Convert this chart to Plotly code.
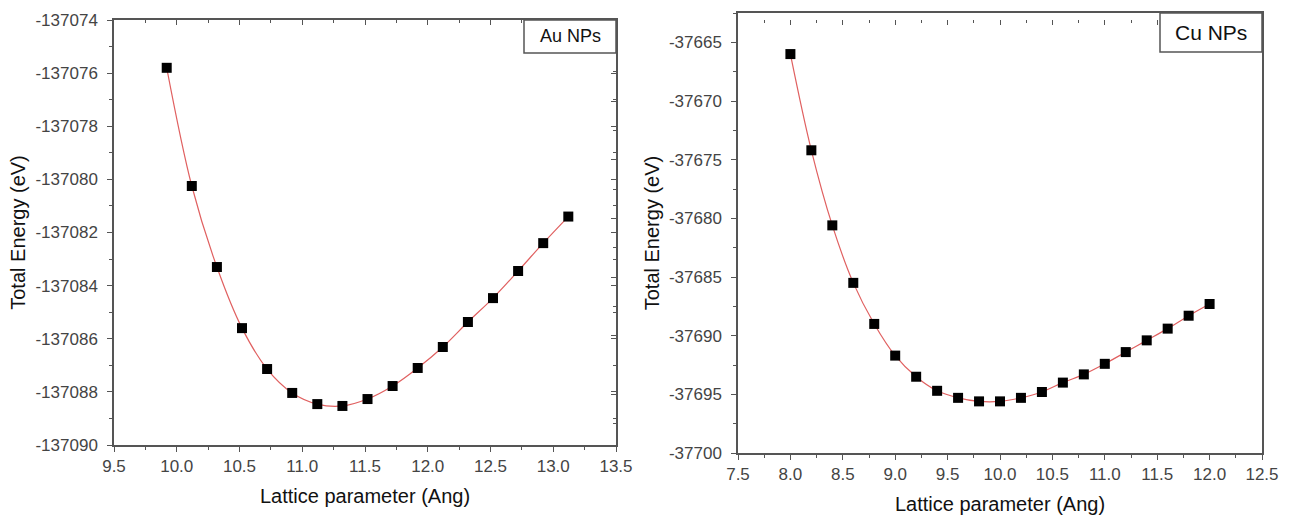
import plotly.graph_objects as go

# Au NPs data
au_lattice = [9.92, 10.12, 10.32, 10.52, 10.72, 10.92, 11.12, 11.32, 11.52,
              11.72, 11.92, 12.12, 12.32, 12.52, 12.72, 12.92, 13.12]
au_energy = [-137075.8, -137080.25, -137083.3, -137085.6, -137087.14, -137088.04,
             -137088.46, -137088.53, -137088.27, -137087.78, -137087.1, -137086.31,
             -137085.37, -137084.47, -137083.45, -137082.4, -137081.4]

# Cu NPs data
cu_lattice = [8.0, 8.2, 8.4, 8.6, 8.8, 9.0, 9.2, 9.4, 9.6, 9.8, 10.0,
              10.2, 10.4, 10.6, 10.8, 11.0, 11.2, 11.4, 11.6, 11.8, 12.0]
cu_energy = [-37666.0, -37674.2, -37680.6, -37685.5, -37689.0, -37691.7, -37693.5,
             -37694.7, -37695.3, -37695.6, -37695.6, -37695.3, -37694.8, -37694.0,
             -37693.3, -37692.4, -37691.4, -37690.4, -37689.4, -37688.3, -37687.3]

# Tick labels
au_yticks = [-137090, -137088, -137086, -137084, -137082, -137080, -137078, -137076, -137074]
cu_yticks = [-37700, -37695, -37690, -37685, -37680, -37675, -37670, -37665]

au_label = "Au NPs"
cu_label = "Cu NPs"
x_title = "Lattice parameter (Ang)"
y_title = "Total Energy (eV)"

FONT = "Liberation Sans, Arial, sans-serif"
AXC = "#555555"
TICKC = "#444444"
LINEC = "#e06060"

fig = go.Figure()

def add_series(x, y, xa, ya, xo, yo):
    fig.add_trace(go.Scatter(x=x, y=y, mode="lines", line=dict(color=LINEC, width=1.2, shape="spline", smoothing=1.0),
                             xaxis=xa, yaxis=ya, showlegend=False, hoverinfo="skip"))
    fig.add_trace(go.Scatter(x=x, y=y, mode="markers", marker=dict(symbol="square", size=10, color="black"),
                             xaxis=xa, yaxis=ya, showlegend=False))
    # invisible traces so the mirrored (top/right) tick axes are drawn
    fig.add_trace(go.Scatter(x=x, y=y, mode="markers", marker=dict(opacity=0), xaxis=xo, yaxis=yo,
                             showlegend=False, hoverinfo="skip"))

add_series(au_lattice, au_energy, "x", "y", "x3", "y3")
add_series(cu_lattice, cu_energy, "x2", "y2", "x4", "y4")

W, H = 1293, 520
def px_x(a, b):
    return [a / W, b / W]
def px_y(top, bottom):
    return [(H - bottom) / H, (H - top) / H]

L_dom_x = px_x(114, 616)
L_dom_y = px_y(20, 445)
R_dom_x = px_x(738, 1262)
R_dom_y = px_y(13, 453)

def xaxis_cfg(dom, rng, anchor):
    return dict(domain=dom, range=rng, anchor=anchor, dtick=0.5, tickformat=".1f", automargin=False,
                showgrid=False, zeroline=False, showline=True, linecolor=AXC, linewidth=1.5,
                mirror=True, ticks="outside", ticklen=5, tickcolor=AXC, tickwidth=1,
                minor=dict(dtick=0.25, ticks="outside", ticklen=3, tickcolor=AXC),
                tickfont=dict(family=FONT, size=17, color=TICKC),
                title=dict(text=x_title, font=dict(family=FONT, size=20, color="#111111"), standoff=14))

def yaxis_cfg(dom, rng, anchor, ticks, minor):
    return dict(domain=dom, range=rng, anchor=anchor, tickvals=ticks, ticktext=[str(t) for t in ticks],
                automargin=False, ticklabelstandoff=6,
                showgrid=False, zeroline=False, showline=True, linecolor=AXC, linewidth=1.5,
                mirror=True, ticks="outside", ticklen=5, tickcolor=AXC, tickwidth=1,
                minor=dict(dtick=minor, ticks="outside", ticklen=3, tickcolor=AXC),
                tickfont=dict(family=FONT, size=17, color=TICKC),
                title=dict(text=y_title, font=dict(family=FONT, size=20, color="#111111"), standoff=4))

def top_cfg(over, rng):
    return dict(overlaying=over, side="top", range=rng, dtick=0.5, showticklabels=False, showline=False,
                showgrid=False, zeroline=False, ticks="inside", ticklen=5, tickcolor=AXC, automargin=False,
                minor=dict(dtick=0.25, ticks="inside", ticklen=3, tickcolor=AXC))

def right_cfg(over, rng, dtick, minor):
    return dict(overlaying=over, side="right", range=rng, dtick=dtick, tick0=0, showticklabels=False,
                showline=False, showgrid=False, zeroline=False, ticks="inside", ticklen=5, tickcolor=AXC,
                automargin=False, minor=dict(dtick=minor, ticks="inside", ticklen=3, tickcolor=AXC))

au_xr = [9.5, 13.5]
au_yr = [-137090, -137074]
cu_xr = [7.5, 12.5]
cu_yr = [-37700, -37662.5]

fig.update_layout(
    width=W, height=H,
    margin=dict(l=0, r=0, t=0, b=0),
    paper_bgcolor="white", plot_bgcolor="white",
    xaxis=xaxis_cfg(L_dom_x, au_xr, "y"),
    yaxis=yaxis_cfg(L_dom_y, au_yr, "x", au_yticks, 1),
    xaxis2=xaxis_cfg(R_dom_x, cu_xr, "y2"),
    yaxis2=yaxis_cfg(R_dom_y, cu_yr, "x2", cu_yticks, 2.5),
    xaxis3=top_cfg("x", au_xr),
    yaxis3=right_cfg("y", au_yr, 2, 1),
    xaxis4=top_cfg("x2", cu_xr),
    yaxis4=right_cfg("y2", cu_yr, 5, 2.5),
    font=dict(family=FONT),
)

# Label boxes
fig.add_shape(type="rect", xref="paper", yref="paper",
              x0=524 / W, x1=616 / W, y0=(H - 53) / H, y1=(H - 20) / H,
              line=dict(color=AXC, width=1.5), fillcolor="white")
fig.add_annotation(xref="paper", yref="paper", x=570 / W, y=(H - 36) / H, text=au_label, showarrow=False,
                   font=dict(family=FONT, size=18, color="#111111"), xanchor="center", yanchor="middle")
fig.add_shape(type="rect", xref="paper", yref="paper",
              x0=1160 / W, x1=1262 / W, y0=(H - 52) / H, y1=(H - 13) / H,
              line=dict(color=AXC, width=1.5), fillcolor="white")
fig.add_annotation(xref="paper", yref="paper", x=1211 / W, y=(H - 32) / H, text=cu_label, showarrow=False,
                   font=dict(family=FONT, size=21, color="#111111"), xanchor="center", yanchor="middle")

fig.write_html("out.html", config={"displayModeBar": False},
               post_script="document.body.style.margin='0';document.body.style.overflow='hidden';")
